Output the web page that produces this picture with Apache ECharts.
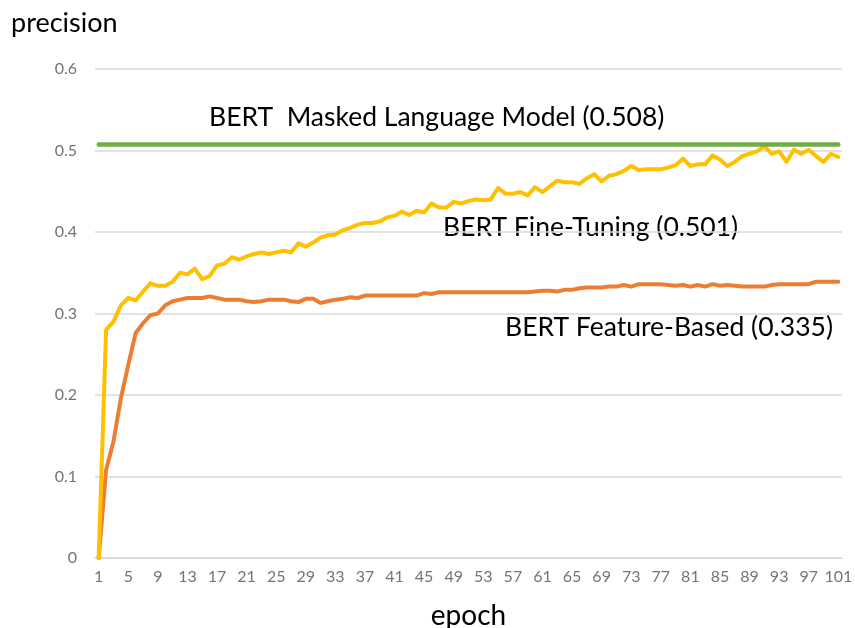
<!DOCTYPE html>
<html>
<head>
<meta charset="utf-8">
<script src="https://cdn.jsdelivr.net/npm/echarts@6/dist/echarts.min.js"></script>
<style>
html,body{margin:0;padding:0;background:#fff;}
#chart{width:855px;height:628px;}
</style>
</head>
<body>
<div id="chart"></div>
<script>
const epochs = ['1','2','3','4','5','6','7','8','9','10','11','12','13','14','15','16','17','18','19','20',
'21','22','23','24','25','26','27','28','29','30','31','32','33','34','35','36','37','38','39','40',
'41','42','43','44','45','46','47','48','49','50','51','52','53','54','55','56','57','58','59','60',
'61','62','63','64','65','66','67','68','69','70','71','72','73','74','75','76','77','78','79','80',
'81','82','83','84','85','86','87','88','89','90','91','92','93','94','95','96','97','98','99','100','101'];

const fineTuning = [0,0.280,0.290,0.310,0.319,0.316,0.327,0.337,0.334,0.334,
0.339,0.350,0.348,0.355,0.342,0.346,0.359,0.361,0.369,0.366,
0.370,0.373,0.375,0.373,0.375,0.377,0.375,0.386,0.382,0.387,
0.393,0.396,0.397,0.402,0.405,0.409,0.411,0.411,0.413,0.418,
0.420,0.425,0.421,0.426,0.424,0.435,0.430,0.430,0.437,0.435,
0.438,0.440,0.439,0.440,0.454,0.447,0.447,0.449,0.445,0.455,
0.449,0.456,0.463,0.461,0.461,0.459,0.466,0.471,0.462,0.469,
0.471,0.475,0.481,0.476,0.477,0.477,0.477,0.479,0.482,0.490,
0.481,0.483,0.483,0.494,0.489,0.481,0.486,0.493,0.496,0.499,
0.505,0.496,0.499,0.486,0.501,0.496,0.501,0.493,0.486,0.496,0.492];

const featureBased = [0,0.108,0.143,0.196,0.237,0.276,0.288,0.298,0.300,0.310,
0.315,0.317,0.319,0.319,0.319,0.321,0.319,0.317,0.317,0.317,
0.315,0.314,0.315,0.317,0.317,0.317,0.315,0.314,0.318,0.318,
0.313,0.315,0.317,0.318,0.320,0.319,0.322,0.322,0.322,0.322,
0.322,0.322,0.322,0.322,0.325,0.324,0.326,0.326,0.326,0.326,
0.326,0.326,0.326,0.326,0.326,0.326,0.326,0.326,0.326,0.327,
0.328,0.328,0.327,0.329,0.329,0.331,0.332,0.332,0.332,0.333,
0.333,0.335,0.333,0.336,0.336,0.336,0.336,0.335,0.334,0.335,
0.333,0.335,0.333,0.336,0.334,0.335,0.334,0.333,0.333,0.333,
0.333,0.335,0.336,0.336,0.336,0.336,0.336,0.339,0.339,0.339,0.339];

const maskedLM = 0.508;

const yTicks = [0, 0.1, 0.2, 0.3, 0.4, 0.5, 0.6];

const labels = {
  mlm: 'BERT  Masked Language Model (0.508)',
  ft: 'BERT Fine-Tuning (0.501)',
  fb: 'BERT Feature-Based (0.335)',
  yName: 'precision',
  xName: 'epoch'
};

const FONT = 'Lato, "Open Sans", sans-serif';
const chart = echarts.init(document.getElementById('chart'));
chart.setOption({
  animation: false,
  backgroundColor: '#ffffff',
  grid: {left: 95, right: 13, top: 69, bottom: 70, containLabel: false, outerBoundsMode: 'none'},
  xAxis: {
    type: 'category',
    data: epochs,
    boundaryGap: true,
    name: labels.xName,
    nameLocation: 'middle',
    nameGap: 44,
    nameTextStyle: {fontFamily: FONT, fontSize: 28, color: '#000'},
    axisLine: {show: true, lineStyle: {color: '#d9d9d9', width: 1.5}},
    axisTick: {show: false},
    axisLabel: {interval: 3, margin: 11, fontFamily: FONT, fontSize: 16, color: '#747474'},
    splitLine: {show: false}
  },
  yAxis: {
    type: 'value',
    min: yTicks[0],
    max: yTicks[yTicks.length - 1],
    interval: 0.1,
    axisLine: {show: false},
    axisTick: {show: false},
    axisLabel: {margin: 18, fontFamily: FONT, fontSize: 16, color: '#747474',
      formatter: v => String(Math.round(v * 10) / 10)},
    splitLine: {lineStyle: {color: '#d9d9d9', width: 1.5}}
  },
  series: [
    {
      name: 'Feature-Based', type: 'line', data: featureBased,
      showSymbol: false, smooth: false,
      lineStyle: {color: '#ED7D31', width: 4, join: 'round', cap: 'round'},
      itemStyle: {color: '#ED7D31'}, z: 3
    },
    {
      name: 'Fine-Tuning', type: 'line', data: fineTuning,
      showSymbol: false, smooth: false,
      lineStyle: {color: '#FFC000', width: 4, join: 'round', cap: 'round'},
      itemStyle: {color: '#FFC000'}, z: 4,
      markLine: {
        silent: true, symbol: 'none', label: {show: false},
        lineStyle: {color: '#70AD47', width: 4.5, type: 'solid', cap: 'round'},
        data: [[{xAxis: epochs[0], yAxis: maskedLM}, {xAxis: epochs[epochs.length - 1], yAxis: maskedLM}]]
      }
    }
  ],
  graphic: [
    {type: 'text', left: 11, top: 10, style: {text: labels.yName, font: '27px ' + FONT, fill: '#000'}},
    {type: 'text', left: 209, top: 104, style: {text: labels.mlm, font: '26.5px ' + FONT, fill: '#000'}},
    {type: 'text', left: 443, top: 214, style: {text: labels.ft, font: '26.5px ' + FONT, fill: '#000'}},
    {type: 'text', left: 505, top: 314, style: {text: labels.fb, font: '26.5px ' + FONT, fill: '#000'}}
  ]
});
</script>
</body>
</html>
